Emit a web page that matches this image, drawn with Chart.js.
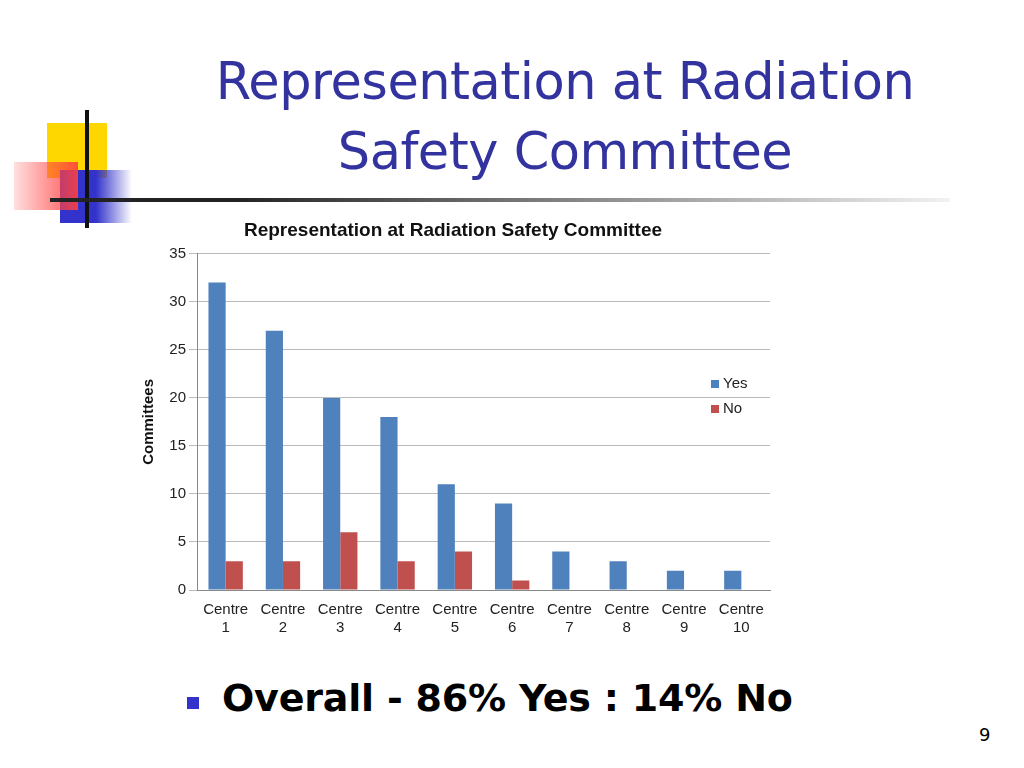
<!DOCTYPE html>
<html><head><meta charset="utf-8">
<script src="https://cdn.jsdelivr.net/npm/chart.js"></script>
<style>
body{margin:0;width:1024px;height:768px;background:#fff;position:relative;overflow:hidden;font-family:"Liberation Sans",Arial,sans-serif}
.t{position:absolute;left:150px;width:830px;text-align:center;color:#3333a0;font-family:"DejaVu Sans",sans-serif;font-size:51px;line-height:70px;letter-spacing:-0.5px}
#wrap{position:absolute;left:132px;top:210px;width:650px;height:440px}
.lg{position:absolute;font-size:15px;color:#222}
.lg span{display:inline-block;width:8px;height:8px;margin-right:4px}
</style></head><body>
<div style="position:absolute;left:47px;top:123px;width:60px;height:55px;background:#ffd700"></div>
<div style="position:absolute;left:60px;top:170px;width:72px;height:53px;background:linear-gradient(90deg,#3333cc,#3333cc 50%,rgba(51,51,204,0))"></div>
<div style="position:absolute;left:14px;top:162px;width:64px;height:48px;background:linear-gradient(90deg,rgba(255,80,80,0.2),#ff4040);opacity:.9"></div>
<div style="position:absolute;left:85px;top:110px;width:4px;height:118px;background:#111"></div>
<div style="position:absolute;left:50px;top:198px;width:900px;height:4px;background:linear-gradient(90deg,#222,#222 20%,rgba(0,0,0,0.05))"></div>
<div class="t" style="top:47px">Representation at Radiation</div>
<div class="t" style="top:117px">Safety Committee</div>
<div id="wrap"><canvas id="c" width="650" height="440"></canvas></div>
<div class="lg" style="left:711px;top:374px"><span style="background:#4f81bd"></span>Yes</div>
<div class="lg" style="left:711px;top:399px"><span style="background:#c0504d"></span>No</div>
<div style="position:absolute;left:187px;top:697px;width:12px;height:12px;background:#3333cc"></div>
<div style="position:absolute;left:222px;top:676px;font-size:38px;font-weight:bold;font-family:'DejaVu Sans',sans-serif;letter-spacing:-0.2px">Overall - 86% Yes : 14% No</div>
<div style="position:absolute;left:979px;top:724px;font-size:18px;font-family:'DejaVu Sans',sans-serif">9</div>
<script>
const categories=[["Centre","1"],["Centre","2"],["Centre","3"],["Centre","4"],["Centre","5"],["Centre","6"],["Centre","7"],["Centre","8"],["Centre","9"],["Centre","10"]];
const yesValues=[32,27,20,18,11,9,4,3,2,2];
const noValues=[3,3,6,3,4,1,0,0,0,0];
new Chart(document.getElementById('c'),{type:'bar',
data:{labels:categories,datasets:[
{label:'Yes',data:yesValues,backgroundColor:'#4f81bd',categoryPercentage:0.6,barPercentage:1},
{label:'No',data:noValues,backgroundColor:'#c0504d',categoryPercentage:0.6,barPercentage:1}]},
options:{responsive:false,animation:false,
layout:{padding:{left:4,right:12,top:3,bottom:10}},
plugins:{legend:{display:false},title:{display:true,text:'Representation at Radiation Safety Committee',color:'#111',font:{size:19,weight:'bold',family:'Liberation Sans'},padding:{top:6,bottom:12}}},
scales:{x:{grid:{display:false},border:{color:'#888'},ticks:{color:'#222',font:{size:15,family:'Liberation Sans'},maxRotation:0,autoSkip:false}},
y:{min:0,max:35,afterFit:s=>{s.width=61;},ticks:{stepSize:5,color:'#222',font:{size:15,family:'Liberation Sans'}},grid:{color:'#bbb'},border:{color:'#888'},
title:{display:true,text:'Committees',color:'#111',font:{size:15,weight:'bold',family:'Liberation Sans'}}}}}});
</script></body></html>
